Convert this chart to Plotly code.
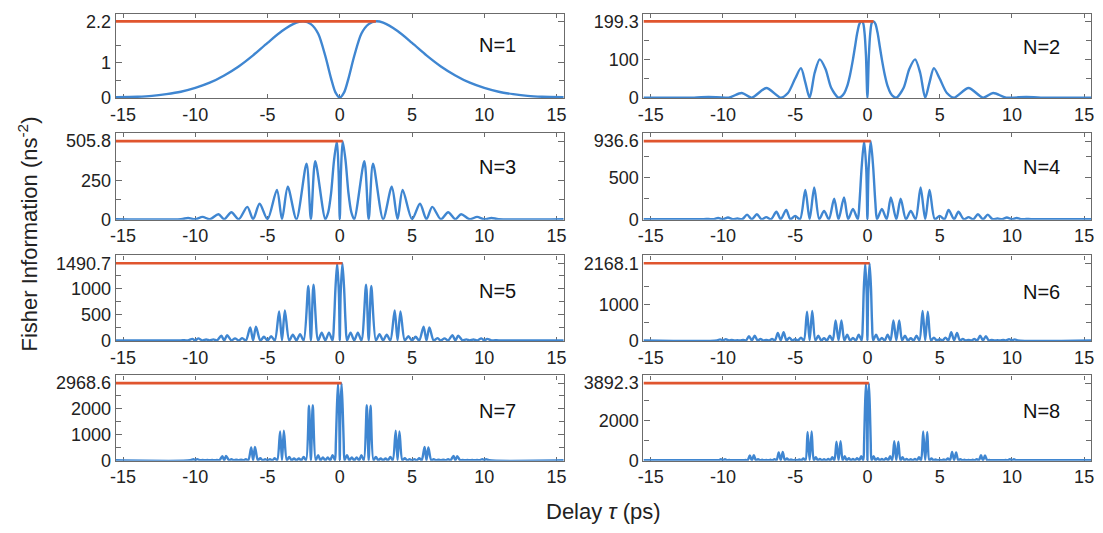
import plotly.graph_objects as go

# Fisher information versus delay for N = 1..8.
# Each curve is symmetric in tau, so only tau >= 0 is listed (mirrored when drawn).
tau_n1 = [0, 0.3, 0.6, 1.0, 1.5, 2.0, 2.5, 3.0, 4.0, 5.0, 6.0, 7.0, 8.0, 9.0, 10.0,
          11.0, 12.0, 13.0, 14.0, 15.5]
fi_n1 = [0, 0.15, 0.55, 1.2, 1.85, 2.12, 2.2, 2.16, 1.92, 1.58, 1.22, 0.9, 0.64, 0.43,
         0.28, 0.17, 0.1, 0.05, 0.025, 0.01]

tau_n2 = [0, 0.1, 0.2, 0.3, 0.42, 0.55, 0.7, 0.85, 1.0, 1.2, 1.4, 1.6, 1.8, 2.0,
          2.5, 2.9, 3.3, 3.65, 4.0, 4.3, 4.6, 5.0, 5.5, 6.0, 7.0, 8.0, 8.7, 9.6,
          11.0, 12.0, 15.5]
fi_n2 = [0, 110, 170, 195, 199.3, 193, 170, 135, 100, 60, 30, 12, 3, 0,
         25, 75, 100, 65, 0, 40, 77, 50, 12, 0, 25, 0, 12, 0,
         2, 0, 0]

tau_n3 = [0, 0.08, 0.2, 0.4, 0.6, 0.8, 1.0, 1.7, 2.0, 2.3, 3.0, 3.6, 4.0, 4.35, 5.0,
          5.55, 6.0, 6.4, 7.0, 7.5, 8.0, 8.4, 9.0, 9.5, 10.0, 10.5, 11.0, 15.5]
fi_n3 = [0, 300, 505.8, 380, 170, 45, 0, 375, 0, 360, 0, 210, 0, 190, 0,
         100, 0, 80, 0, 45, 0, 32, 0, 15, 0, 8, 0, 0]

tau_n4 = [0, 0.08, 0.23, 0.4, 0.55, 0.667, 1.0, 1.333, 1.62, 2.0, 2.3, 2.667, 3.0,
          3.333, 3.68, 4.0, 4.3, 4.667, 5.0, 5.333, 5.62, 6.0, 6.3, 6.667, 7.0,
          7.333, 7.65, 8.0, 8.33, 8.667, 9.0, 9.333, 9.65, 10.0, 10.33, 10.667,
          11.0, 11.333, 15.5]
fi_n4 = [0, 600, 936.6, 620, 200, 0, 124, 0, 260, 0, 245, 0, 100,
         0, 380, 0, 352, 0, 40, 0, 112, 0, 90, 0, 25,
         0, 60, 0, 55, 0, 8, 0, 20, 0, 15, 0,
         3, 0, 0]

tau_n5 = [0, 0.06, 0.18, 0.3, 0.4, 0.5, 0.75, 1.0, 1.25, 1.5, 1.82, 2.0, 2.18, 2.5,
          2.75, 3.0, 3.25, 3.5, 3.8, 4.0, 4.2, 4.5, 4.75, 5.0, 5.25, 5.5, 5.8, 6.0,
          6.2, 6.5, 6.75, 7.0, 7.25, 7.5, 7.8, 8.0, 8.2, 8.5, 8.75, 9.0, 9.25, 9.5,
          9.8, 10.0, 10.2, 10.5, 10.75, 11.0, 15.5]
fi_n5 = [0, 900, 1490.7, 1000, 350, 0, 150, 0, 150, 0, 1075, 0, 1050, 0,
         120, 0, 110, 0, 580, 0, 560, 0, 80, 0, 70, 0, 265, 0,
         250, 0, 45, 0, 40, 0, 100, 0, 90, 0, 20, 0, 18, 0,
         40, 0, 30, 0, 5, 0, 0]

tau_n6 = [0, 0.05, 0.15, 0.25, 0.32, 0.4, 0.6, 0.8, 1.0, 1.2, 1.4, 1.6, 1.8, 2.0,
          2.2, 2.4, 2.6, 2.8, 3.0, 3.2, 3.4, 3.6, 3.82, 4.0, 4.18, 4.4, 4.6, 4.8,
          5.0, 5.2, 5.4, 5.6, 5.8, 6.0, 6.2, 6.4, 6.6, 6.8, 7.0, 7.2, 7.4, 7.6,
          7.8, 8.0, 8.2, 8.4, 8.6, 8.8, 9.0, 9.2, 9.4, 9.6, 9.8, 10.0, 10.2, 10.4,
          15.5]
fi_n6 = [0, 1300, 2168.1, 1450, 500, 0, 160, 0, 70, 0, 160, 0, 560, 0,
         560, 0, 130, 0, 60, 0, 130, 0, 830, 0, 810, 0, 80, 0,
         35, 0, 80, 0, 230, 0, 210, 0, 40, 0, 15, 0, 40, 0,
         130, 0, 120, 0, 12, 0, 5, 0, 12, 0, 35, 0, 30, 0,
         0]

tau_n7 = [0, 0.04, 0.12, 0.2, 0.27, 0.333, 0.5, 0.667, 0.833, 1.0, 1.167, 1.333,
          1.5, 1.667, 1.87, 2.0, 2.13, 2.333, 2.5, 2.667, 2.833, 3.0, 3.167, 3.333,
          3.5, 3.667, 3.87, 4.0, 4.13, 4.333, 4.5, 4.667, 4.833, 5.0, 5.167, 5.333,
          5.5, 5.667, 5.87, 6.0, 6.13, 6.333, 6.5, 6.667, 6.833, 7.0, 7.167, 7.333,
          7.5, 7.667, 7.87, 8.0, 8.13, 8.333, 8.5, 8.667, 8.833, 9.0, 9.167, 9.333,
          9.5, 9.667, 9.87, 10.0, 10.13, 10.333, 15.5]
fi_n7 = [0, 1800, 2968.6, 2000, 700, 0, 200, 0, 110, 0, 110, 0,
         200, 0, 2120, 0, 2100, 0, 130, 0, 70, 0, 70, 0,
         130, 0, 1140, 0, 1110, 0, 80, 0, 40, 0, 40, 0,
         80, 0, 510, 0, 490, 0, 40, 0, 20, 0, 20, 0,
         40, 0, 170, 0, 160, 0, 15, 0, 8, 0, 8, 0,
         15, 0, 45, 0, 40, 0, 0]

tau_n8 = [0, 0.03, 0.1, 0.17, 0.23, 0.286, 0.43, 0.571, 0.71, 0.857, 1.0, 1.143,
          1.29, 1.429, 1.57, 1.714, 1.86, 2.0, 2.14, 2.286, 2.43, 2.571, 2.71, 2.857,
          3.0, 3.143, 3.29, 3.429, 3.57, 3.714, 3.86, 4.0, 4.14, 4.286, 4.43, 4.571,
          4.71, 4.857, 5.0, 5.143, 5.29, 5.429, 5.57, 5.714, 5.86, 6.0, 6.14, 6.286,
          6.43, 6.571, 6.71, 6.857, 7.0, 7.143, 7.29, 7.429, 7.57, 7.714, 7.86, 8.0,
          8.14, 8.286, 8.43, 8.571, 8.71, 8.857, 9.0, 9.143, 9.29, 9.429, 9.57, 9.714,
          9.86, 10.0, 10.14, 10.286, 10.43, 10.571, 15.5]
fi_n8 = [0, 2400, 3892.3, 2600, 900, 0, 200, 0, 100, 0, 70, 0,
         100, 0, 200, 0, 960, 0, 940, 0, 150, 0, 70, 0,
         50, 0, 70, 0, 150, 0, 1450, 0, 1430, 0, 90, 0,
         40, 0, 25, 0, 40, 0, 90, 0, 420, 0, 400, 0,
         60, 0, 25, 0, 15, 0, 25, 0, 60, 0, 250, 0,
         240, 0, 15, 0, 8, 0, 5, 0, 8, 0, 15, 0,
         55, 0, 50, 0, 5, 0, 0]

# y-axis ticks (the top tick is the curve maximum) and minor ticks
yticks = [[0, 1], [0, 100], [0, 250], [0, 500], [0, 500, 1000], [0, 1000],
          [0, 1000, 2000], [0, 2000]]
yminor = [[0.5, 1.5], [50, 150], [125, 375], [250, 750], [250, 750, 1250],
          [500, 1500], [500, 1500, 2500], [1000, 3000]]
xticks = [-15, -10, -5, 0, 5, 10, 15]
xticktext = ["-15", "-10", "-5", "0", "5", "10", "15"]
labels = ["N=1", "N=2", "N=3", "N=4", "N=5", "N=6", "N=7", "N=8"]

series = [(tau_n1, fi_n1), (tau_n2, fi_n2), (tau_n3, fi_n3), (tau_n4, fi_n4),
          (tau_n5, fi_n5), (tau_n6, fi_n6), (tau_n7, fi_n7), (tau_n8, fi_n8)]

BLUE = "#3f86d1"
RED = "#e0552e"
FRAME = "#6b6b6b"
TEXT = "#222222"
FONT = "Liberation Sans, Arial, sans-serif"

XDOM = [[0.1004, 0.5098], [0.5827, 0.9921]]
YDOM = [[0.8156, 0.9775], [0.5822, 0.7480], [0.3495, 0.5135], [0.1195, 0.2833]]
LABEL_X = [0.807, 0.842]
LABEL_Y = [44, 46.5, 168.3, 168.3, 296, 296.5, 418, 418.5]
XMIN, XMAX = -15.5, 15.5

fig = go.Figure()
layout = {}
for i, (tau, fi) in enumerate(series):
    k = i + 1
    row, col = divmod(i, 2)
    xs = [-t for t in reversed(tau[1:])] + list(tau)
    ys = list(reversed(fi[1:])) + list(fi)
    peak = max(fi)
    tpeak = tau[fi.index(peak)]
    xref = "x" if k == 1 else f"x{k}"
    yref = "y" if k == 1 else f"y{k}"

    fig.add_trace(go.Scatter(
        x=xs, y=ys, mode="lines", xaxis=xref, yaxis=yref, showlegend=False,
        line=dict(color=BLUE, width=2.4, shape="spline", smoothing=0.8),
        hoverinfo="skip"))
    fig.add_trace(go.Scatter(
        x=[XMIN, tpeak], y=[peak, peak], mode="lines", xaxis=xref, yaxis=yref,
        showlegend=False, line=dict(color=RED, width=2.6), hoverinfo="skip"))

    ptxt = f"{peak:.1f}"
    layout["xaxis" if k == 1 else f"xaxis{k}"] = dict(
        domain=XDOM[col], anchor=yref, range=[XMIN, XMAX],
        tickmode="array", tickvals=xticks, ticktext=xticktext,
        ticks="inside", ticklen=4, tickwidth=1, tickcolor=FRAME,
        showline=True, linecolor=FRAME, linewidth=1.3, mirror="ticks",
        showgrid=False, zeroline=False, layer="below traces",
        tickfont=dict(size=18, color=TEXT, family=FONT))
    layout["yaxis" if k == 1 else f"yaxis{k}"] = dict(
        domain=YDOM[row], anchor=xref, range=[-0.006 * peak, 1.1 * peak],
        tickmode="array", tickvals=yticks[i] + [peak],
        ticktext=[str(v) for v in yticks[i]] + [ptxt],
        ticks="inside", ticklen=6, tickwidth=1, tickcolor=FRAME,
        minor=dict(tickmode="array", tickvals=yminor[i], ticks="inside",
                   ticklen=5, tickcolor=FRAME, showgrid=False),
        showline=True, linecolor=FRAME, linewidth=1.3, mirror="ticks",
        showgrid=False, zeroline=False, layer="below traces",
        tickfont=dict(size=18, color=TEXT, family=FONT))

annotations = []
for i, lab in enumerate(labels):
    row, col = divmod(i, 2)
    x0 = XDOM[col][0] + LABEL_X[col] * (XDOM[col][1] - XDOM[col][0])
    annotations.append(dict(
        text=lab, x=x0, y=1 - LABEL_Y[i] / 533, xref="paper", yref="paper",
        xanchor="left", yanchor="middle", showarrow=False,
        font=dict(size=20, color="#111111", family=FONT)))

annotations.append(dict(
    text="Fisher Information (ns<sup>-2</sup>)", x=22 / 1103, y=1 - 237 / 533,
    xref="paper", yref="paper", xanchor="center", yanchor="middle",
    textangle=-90, showarrow=False,
    font=dict(size=22, color=TEXT, family=FONT)))
annotations.append(dict(
    text="Delay <i>τ</i> (ps)", x=602 / 1103, y=1 - 521 / 533,
    xref="paper", yref="paper", xanchor="center", yanchor="middle",
    showarrow=False, font=dict(size=22, color=TEXT, family=FONT)))

fig.update_layout(
    width=1103, height=533, margin=dict(l=0, r=0, t=0, b=0),
    paper_bgcolor="white", plot_bgcolor="white",
    annotations=annotations, **layout)

fig.write_html("out.html")
